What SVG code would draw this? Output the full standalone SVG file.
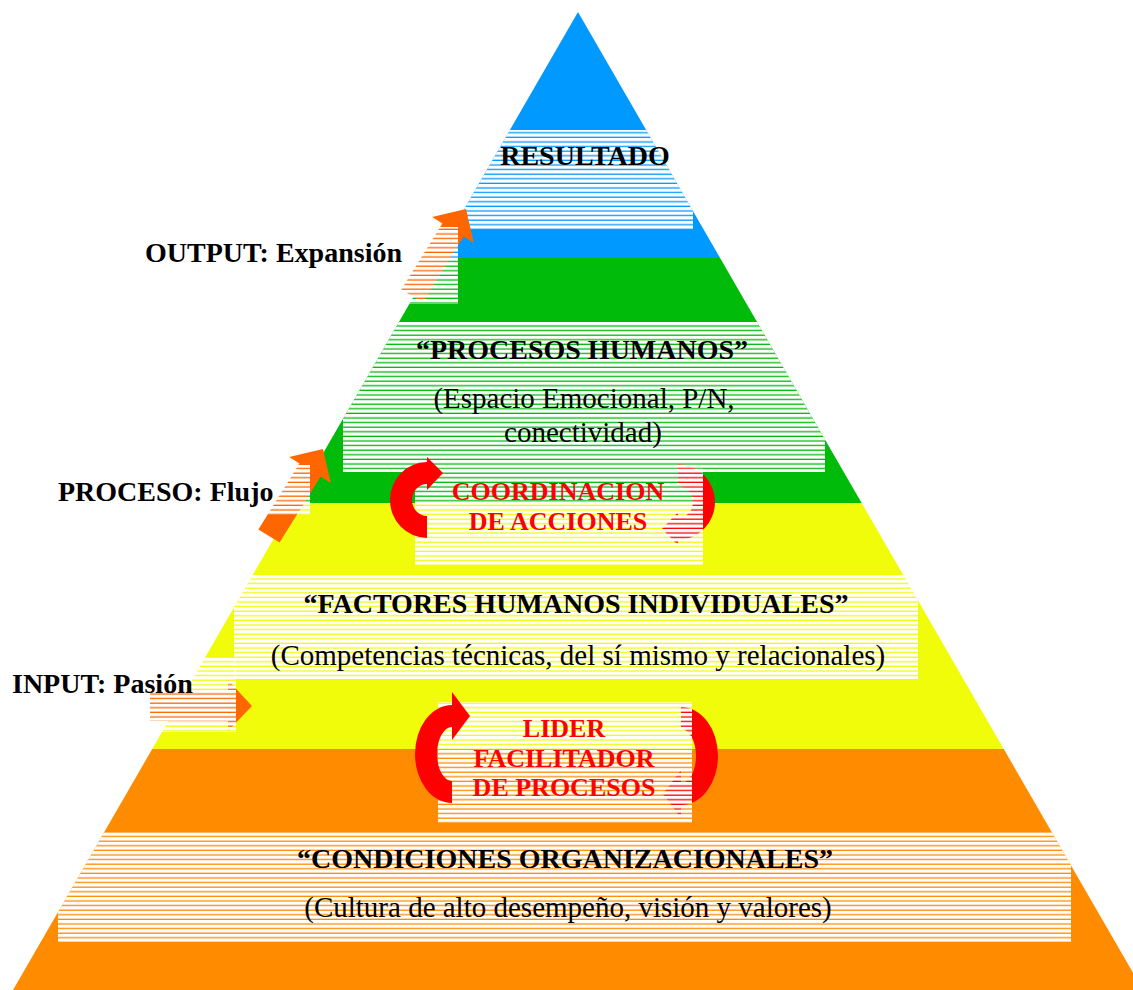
<svg xmlns="http://www.w3.org/2000/svg" width="1133" height="990" viewBox="0 0 1133 990">
<defs>
<style>
.b{font-family:"Liberation Serif","Times New Roman",serif;font-weight:bold;font-size:28px;fill:#000;text-anchor:middle}
.bl{font-family:"Liberation Serif","Times New Roman",serif;font-weight:bold;font-size:28px;fill:#000}
.r{font-family:"Liberation Serif","Times New Roman",serif;font-size:29px;fill:#000;text-anchor:middle}
.red{font-family:"Liberation Serif","Times New Roman",serif;font-weight:bold;font-size:26px;fill:#FF0000;text-anchor:middle}
.st{fill:url(#stripes)}
.oa{fill:#FF6600}
.ca{fill:#FF0000}
</style>
<pattern id="stripes" patternUnits="userSpaceOnUse" x="0" y="0" width="20" height="4.6">
<rect x="0" y="0" width="20" height="3.3" fill="#FFFFFF"/>
</pattern>
<clipPath id="pyr">
<polygon points="578,12 13,990 1143,990"/>
</clipPath>
</defs>
<rect width="1133" height="990" fill="#FFFFFF"/>
<g id="pyramid" clip-path="url(#pyr)">
<rect x="0" y="0" width="1133" height="258" fill="#0099FF"/>
<rect x="0" y="258" width="1133" height="245" fill="#00BB0A"/>
<rect x="0" y="503" width="1133" height="246" fill="#F0FC0A"/>
<rect x="0" y="749" width="1133" height="241" fill="#FF8C00"/>
</g>
<g id="connectors-under">
<path class="ca" transform="rotate(180 552.5 501)" d="M427,462 A37,38 0 0 0 427,538 L427,516 A15,16 0 0 1 427,484 L427,490 L443,473 L427,457 Z"/>
<path class="ca" transform="rotate(180 566.5 755)" d="M452,705 A37,49 0 0 0 452,803 L452,781 A15,27 0 0 1 452,727 L452,740 L470,716 L452,692 Z"/>
</g>
<g id="label-boxes" clip-path="url(#pyr)">
<rect class="st" x="462" y="130" width="231" height="100"/>
<rect class="st" x="343" y="322" width="482" height="150"/>
<rect class="st" x="415" y="468" width="288" height="97"/>
<rect class="st" x="234" y="575" width="684" height="104"/>
<rect class="st" x="438" y="702" width="254" height="121"/>
<rect class="st" x="58" y="832" width="1013" height="110"/>
</g>
<g id="connectors">
<polygon class="oa" points="401.4,289.4 442.4,223.4 432.2,217.1 466,209 473.8,242.9 463.6,236.6 422.6,302.6"/>
<polygon class="oa" points="258.4,529.4 299.4,463.4 289.2,457.1 323,449 330.8,482.9 320.6,476.6 279.6,542.6"/>
<polygon class="oa" points="150,691 228,691 228,680 252,706 228,731 228,721 150,721"/>
<rect class="st" x="390" y="227" width="68" height="77"/>
<rect class="st" x="240" y="465" width="70" height="50"/>
<rect class="st" x="140" y="657" width="96" height="75"/>
<path class="ca" d="M427,462 A37,38 0 0 0 427,538 L427,516 A15,16 0 0 1 427,484 L427,490 L443,473 L427,457 Z"/>
<path class="ca" d="M452,705 A37,49 0 0 0 452,803 L452,781 A15,27 0 0 1 452,727 L452,740 L470,716 L452,692 Z"/>
</g>
<g id="node-resultado">
<text class="b" x="585" y="165">RESULTADO</text>
</g>
<g id="node-output">
<text class="bl" x="145" y="262">OUTPUT: Expansión</text>
</g>
<g id="node-procesos">
<text class="b" x="582" y="359">“PROCESOS HUMANOS”</text>
<text class="r" x="584" y="408">(Espacio Emocional, P/N,</text>
<text class="r" x="583" y="442">conectividad)</text>
</g>
<g id="node-proceso">
<text class="bl" x="58" y="501">PROCESO: Flujo</text>
</g>
<g id="node-coordinacion">
<text class="red" x="558" y="500">COORDINACION</text>
<text class="red" x="558" y="530">DE ACCIONES</text>
</g>
<g id="node-factores">
<text class="b" x="576" y="613">“FACTORES HUMANOS INDIVIDUALES”</text>
<text class="r" x="578" y="665">(Competencias técnicas, del sí mismo y relacionales)</text>
</g>
<g id="node-input">
<text class="bl" x="12" y="693">INPUT: Pasión</text>
</g>
<g id="node-lider">
<text class="red" x="564" y="737">LIDER</text>
<text class="red" x="564" y="767">FACILITADOR</text>
<text class="red" x="564" y="796">DE PROCESOS</text>
</g>
<g id="node-condiciones">
<text class="b" x="565" y="868">“CONDICIONES ORGANIZACIONALES”</text>
<text class="r" x="568" y="917">(Cultura de alto desempeño, visión y valores)</text>
</g>
</svg>
